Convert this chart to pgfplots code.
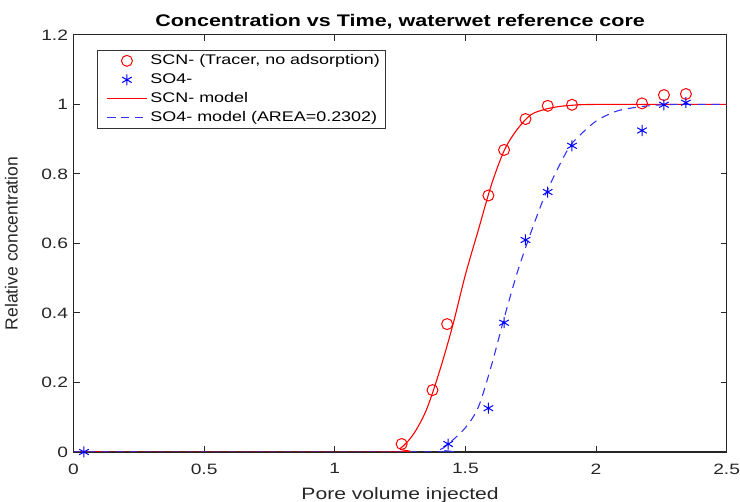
\documentclass[border=0pt]{standalone}
\usepackage{pgfplots}
\pgfplotsset{compat=1.18}
\usepackage{fontspec}
\setmainfont{Liberation Sans}[FakeStretch=1.28]
\newfontfamily\rotfont{Liberation Sans}
\begin{document}
\begin{tikzpicture}
\begin{axis}[
  scale only axis,
  width=653pt, height=417pt,
  xmin=0, xmax=2.5, ymin=0, ymax=1.2,
  xtick={0,0.5,1,1.5,2,2.5},
  ytick={0,0.2,0.4,0.6,0.8,1,1.2},
  xticklabels={0,0.5,1,1.5,2,2.5},
  yticklabels={0,0.2,0.4,0.6,0.8,1,1.2},
  tick label style={font=\fontsize{15}{18}\selectfont, text=black!85},
  xticklabel style={yshift=-8pt, inner xsep=0pt},
  yticklabel style={xshift=-2pt},
  tick align=inside,
  tick pos=both,
  major tick length=6pt,
  axis line style={line width=1.1pt, black!85},
  every tick/.style={black!85, line width=1pt},
  title={\bfseries Concentration vs Time, waterwet reference core},
  title style={at={(axis description cs:0.5,1.019)}, anchor=base, yshift=-6pt, inner ysep=0pt, text height=27pt, font=\fontsize{16.8}{19}\selectfont},
  xlabel={Pore volume injected},
  xlabel style={at={(axis description cs:0.5,-0.115)}, anchor=base, inner ysep=0pt, text depth=2pt, font=\fontsize{16.5}{19}\selectfont, text=black!85},
  ylabel={\rotfont Relative concentration},
  ylabel style={at={(axis description cs:-0.0858,0.5)}, anchor=base, inner ysep=0pt, text height=17.5pt, font=\fontsize{17.5}{19}\selectfont, text=black!85},
  legend cell align=left,
  legend image code/.code={\path[draw=none, fill=none] (0pt,0pt) -- (8pt,0pt); \draw[mark repeat=2,mark phase=2,#1] plot coordinates {(8pt,0pt) (28pt,0pt) (48pt,0pt)};},
  legend style={at={(0.0352,0.964)}, anchor=north west, draw=black!80, line width=0.8pt,
     font=\fontsize{14}{16}\selectfont, row sep=0pt, inner xsep=2pt, inner ysep=1pt,
     nodes={inner ysep=3pt, inner xsep=3pt, text height=10pt, text depth=3pt}},
  /pgf/number format/assume math mode=true,
]
\addplot[only marks, mark=o, red, mark size=5.5pt, line width=1pt] coordinates {
(1.256,0.023) (1.374,0.178) (1.43,0.368) (1.588,0.738) (1.648,0.869)
(1.73,0.958) (1.815,0.996) (1.908,0.999) (2.176,1.003) (2.26,1.027) (2.344,1.030)
};
\addlegendentry{SCN- (Tracer, no adsorption)}
\addplot[only marks, mark=asterisk, blue, mark size=5.5pt, line width=1pt] coordinates {
(0.04,0) (1.434,0.023) (1.588,0.126) (1.648,0.372) (1.73,0.61) (1.815,0.748)
(1.908,0.881) (2.176,0.925) (2.26,0.999) (2.344,1.005)
};
\addlegendentry{SO4-}
\addplot[red, line width=1.1pt, smooth] coordinates {
(0,0) (1.2,0) (1.25,0.01) (1.3,0.05) (1.35,0.12) (1.4,0.23) (1.45,0.36)
(1.5,0.51) (1.55,0.64) (1.6,0.77) (1.65,0.87) (1.7,0.93) (1.75,0.97)
(1.8,0.985) (1.85,0.993) (1.9,0.997) (2.0,1.0) (2.5,1.0)
};
\addlegendentry{SCN- model}
\addplot[blue!80!white, line width=1.1pt, dash pattern=on 8pt off 6pt, smooth] coordinates {
(0,0) (1.35,0) (1.4,0.006) (1.43,0.02) (1.5,0.07) (1.55,0.13) (1.6,0.25)
(1.65,0.39) (1.7,0.52) (1.75,0.63) (1.8,0.73) (1.85,0.81) (1.9,0.88)
(1.95,0.92) (2.0,0.952) (2.05,0.972) (2.1,0.985) (2.2,0.996) (2.3,1.0) (2.5,1.0)
};
\addlegendentry{SO4- model (AREA=0.2302)}
\end{axis}
\end{tikzpicture}
\end{document}
